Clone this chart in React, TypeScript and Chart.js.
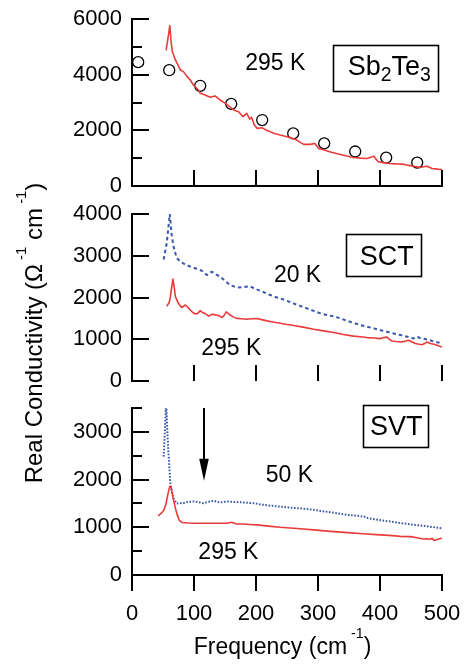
import React, { useEffect, useRef } from "react";
import { Chart, registerables } from "chart.js";

Chart.register(...registerables);

const FONT_FAMILY = '"Liberation Sans", Arial, Helvetica, sans-serif';
const RED = "#ea3b3b";
const BLUE = "#3a58a8";
const W = 464;
const H = 664;
const AXIS_LEFT = 132;

// ---------------- shared axis data ----------------
const freqTicks = [0, 100, 200, 300, 400, 500];
const freqInnerTicks = [100, 200, 300, 400, 500];

// ---------------- Panel 1: Sb2Te3 (295 K) ----------------
const sbFreq = [55, 58, 61, 63, 65, 70, 78, 83, 89, 94, 99, 107, 110, 118, 126, 134, 142, 150, 155, 165, 172, 179, 185, 190, 193, 197, 202, 210, 216, 223, 231, 239, 250, 258, 266, 272, 277, 287, 295, 301, 310, 320, 330, 341, 350, 357, 368, 379, 385, 390, 397, 405, 416, 426, 438, 446, 454, 465, 470, 476, 484, 490, 495, 500];
const sbSigma = [4870, 5300, 5760, 5200, 4830, 4530, 4170, 4110, 3930, 3810, 3630, 3450, 3330, 3270, 3190, 3235, 3090, 2980, 2900, 2720, 2670, 2490, 2610, 2400, 2470, 2200, 2070, 2090, 2010, 1950, 1880, 1830, 1770, 1720, 1650, 1560, 1495, 1495, 1530, 1350, 1290, 1225, 1165, 1105, 1060, 1025, 1000, 990, 1030, 1070, 870, 840, 810, 795, 785, 740, 710, 670, 690, 710, 630, 615, 600, 590];
const sbDcFreq = [10, 60, 110, 160, 210, 260, 310, 360, 410, 460];
const sbDcSigma = [4450, 4160, 3600, 2950, 2370, 1890, 1530, 1240, 1020, 840];
const sbYTicks = [0, 2000, 4000, 6000];
const sbYMinor = [1000, 3000, 5000];
const sbYMax = 6000;

// ---------------- Panel 2: SCT (20 K, 295 K) ----------------
const sct20Freq = [51, 56, 61, 64, 67, 72, 78, 86, 94, 104, 113, 117, 121, 125, 129, 135, 142, 150, 158, 165, 172, 180, 190, 198, 207, 215, 223, 231, 239, 250, 260, 271, 282, 293, 304, 314, 325, 336, 347, 358, 368, 379, 390, 400, 411, 422, 433, 444, 454, 459, 465, 471, 476, 484, 492, 500];
const sct20Sigma = [2910, 3300, 4000, 3500, 3220, 2950, 2860, 2790, 2740, 2690, 2640, 2580, 2540, 2590, 2615, 2560, 2500, 2400, 2300, 2260, 2240, 2250, 2270, 2210, 2160, 2110, 2060, 2010, 1980, 1920, 1860, 1800, 1740, 1680, 1620, 1580, 1550, 1500, 1440, 1390, 1340, 1300, 1260, 1220, 1180, 1140, 1100, 1060, 1020, 1060, 1030, 1010, 995, 960, 930, 900];
const sct295Freq = [56, 60, 62, 64, 66, 68, 70, 75, 80, 86, 91, 94, 98, 102, 106, 110, 114, 118, 124, 129, 133, 137, 141, 145, 148, 152, 155, 159, 164, 169, 177, 185, 193, 202, 209, 218, 227, 237, 248, 261, 276, 293, 309, 325, 341, 357, 368, 379, 390, 400, 406, 411, 415, 419, 426, 433, 440, 446, 451, 457, 463, 468, 472, 476, 481, 487, 493, 500];
const sct295Sigma = [1790, 1880, 2020, 2250, 2440, 2250, 2020, 1855, 1760, 1820, 1750, 1700, 1640, 1605, 1620, 1685, 1640, 1615, 1555, 1600, 1590, 1575, 1560, 1520, 1560, 1655, 1620, 1575, 1530, 1500, 1490, 1480, 1490, 1495, 1470, 1440, 1415, 1390, 1360, 1330, 1290, 1240, 1200, 1160, 1115, 1075, 1060, 1040, 1030, 1015, 1040, 1050, 1000, 960, 945, 935, 950, 975, 940, 900, 880, 870, 900, 935, 900, 880, 850, 815];
const sctYTicks = [0, 1000, 2000, 3000, 4000];
const sctYMax = 4000;

// ---------------- Panel 3: SVT (50 K, 295 K) ----------------
const svt50Freq = [51, 53, 55, 57, 59, 62, 67, 72, 78, 83, 90, 99, 106, 115, 122, 132, 142, 150, 156, 165, 175, 185, 196, 207, 218, 228, 239, 252, 266, 280, 293, 306, 320, 333, 347, 360, 374, 380, 390, 403, 417, 430, 444, 457, 470, 485, 500];
const svt50Sigma = [2480, 3000, 3650, 3000, 2520, 1890, 1600, 1500, 1505, 1510, 1530, 1540, 1530, 1505, 1530, 1555, 1520, 1535, 1540, 1530, 1525, 1515, 1505, 1480, 1460, 1445, 1435, 1415, 1400, 1385, 1365, 1340, 1315, 1290, 1260, 1245, 1225, 1195, 1170, 1145, 1120, 1095, 1070, 1050, 1030, 1005, 980];
const svt295Freq = [42, 47, 51, 55, 58, 61, 63, 65, 67, 70, 73, 76, 81, 90, 99, 115, 132, 145, 153, 161, 165, 169, 180, 190, 202, 220, 239, 266, 293, 320, 347, 373, 400, 420, 433, 449, 460, 470, 476, 481, 484, 487, 492, 500];
const svt295Sigma = [1240, 1290, 1350, 1500, 1700, 1860, 1840, 1700, 1575, 1400, 1260, 1150, 1100, 1090, 1085, 1085, 1085, 1085, 1085, 1105, 1085, 1070, 1070, 1060, 1050, 1025, 1000, 975, 945, 915, 888, 865, 840, 825, 810, 805, 780, 756, 760, 749, 770, 722, 745, 770];
const svtYTicks = [0, 1000, 2000, 3000];
const svtYMinor = [500, 1500, 2500, 3500];
const svtYMax = 3500;

// ---------------- text ----------------
type Seg = { t: string; sup?: boolean; sub?: boolean };
const sbName: Seg[] = [{ t: "Sb" }, { t: "2", sub: true }, { t: "Te" }, { t: "3", sub: true }];
const sctName: Seg[] = [{ t: "SCT" }];
const svtName: Seg[] = [{ t: "SVT" }];
const lbl295: Seg[] = [{ t: "295 K" }];
const lbl20: Seg[] = [{ t: "20 K" }];
const lbl50: Seg[] = [{ t: "50 K" }];
const xTitle: Seg[] = [{ t: "Frequency (cm" }, { t: " -1", sup: true }, { t: ")" }];
const yTitle: Seg[] = [{ t: "Real Conductivity (\u03A9" }, { t: " -1", sup: true }, { t: " cm" }, { t: " -1", sup: true }, { t: ")" }];

const zip = (xs: number[], ys: number[]) => xs.map((x, i) => ({ x, y: ys[i] }));

function drawRich(ctx: CanvasRenderingContext2D, segs: Seg[], x: number, baseline: number, size: number, align: "center" | "left", smallScale = 0.62) {
  const small = size * smallScale;
  const fontOf = (s: number) => `${s}px ${FONT_FAMILY}`;
  const widths = segs.map((s) => {
    ctx.font = fontOf(s.sup || s.sub ? small : size);
    return ctx.measureText(s.t).width;
  });
  const total = widths.reduce((a, b) => a + b, 0);
  let cx = align === "center" ? x - total / 2 : x;
  ctx.textAlign = "left";
  ctx.textBaseline = "alphabetic";
  segs.forEach((s, i) => {
    ctx.font = fontOf(s.sup || s.sub ? small : size);
    const dy = s.sup ? -size * 0.68 : s.sub ? size * 0.25 : 0;
    ctx.fillText(s.t, cx, baseline + dy);
    cx += widths[i];
  });
}

interface Decor {
  yMajor: number[];
  yMinor: number[];
  xInner: number[];
  labels: { x: number; y: number; segs: Seg[] }[];
  box?: { x: number; y: number; w: number; h: number; segs: Seg[]; dx: number; dy: number; sub?: number };
  arrow?: { x: number; from: number; to: number };
  extra?: (ctx: CanvasRenderingContext2D) => void;
}

function decorPlugin(decor: Decor) {
  return {
    id: "panelDecor",
    afterDraw(chart: any) {
      const ctx: CanvasRenderingContext2D = chart.ctx;
      const { left, bottom } = chart.chartArea;
      const xs = chart.scales.x;
      const ys = chart.scales.y;
      ctx.save();
      ctx.strokeStyle = "#000";
      ctx.fillStyle = "#000";
      ctx.lineWidth = 2;
      ctx.lineCap = "butt";
      const hTick = (v: number, len: number) => {
        const py = Math.round(ys.getPixelForValue(v));
        ctx.beginPath();
        ctx.moveTo(left, py);
        ctx.lineTo(left + len, py);
        ctx.stroke();
      };
      decor.yMajor.forEach((v) => hTick(v, 17));
      decor.yMinor.forEach((v) => hTick(v, 10));
      decor.xInner.forEach((v) => {
        const px = Math.round(xs.getPixelForValue(v));
        ctx.beginPath();
        ctx.moveTo(px, bottom);
        ctx.lineTo(px, bottom - 16);
        ctx.stroke();
      });
      const ann = 23;
      decor.labels.forEach((l) => {
        const px = xs.getPixelForValue(l.x);
        const py = ys.getPixelForValue(l.y);
        drawRich(ctx, l.segs, px, py + ann * 0.358, ann, "center");
      });
      if (decor.box) {
        const b = decor.box;
        const px = xs.getPixelForValue(b.x);
        const py = ys.getPixelForValue(b.y);
        ctx.lineWidth = 1.6;
        ctx.strokeRect(Math.round(px - b.w / 2) + 0.5, Math.round(py - b.h / 2) + 0.5, b.w, b.h);
        const bs = 27;
        drawRich(ctx, b.segs, px + b.dx, py + b.dy + bs * 0.358, bs, "center", b.sub ?? 0.72);
      }
      if (decor.arrow) {
        const a = decor.arrow;
        const px = Math.round(xs.getPixelForValue(a.x));
        const y0 = ys.getPixelForValue(a.from);
        const y1 = ys.getPixelForValue(a.to);
        const head = 22;
        ctx.lineWidth = 2;
        ctx.beginPath();
        ctx.moveTo(px, y0);
        ctx.lineTo(px, y1 - head + 2);
        ctx.stroke();
        ctx.beginPath();
        ctx.moveTo(px - 4.8, y1 - head);
        ctx.lineTo(px + 4.8, y1 - head);
        ctx.lineTo(px, y1);
        ctx.closePath();
        ctx.fill();
      }
      if (decor.extra) decor.extra(ctx);
      ctx.restore();
    },
  };
}

type XMode = "line" | "none" | "full";

function makeOptions(p: { padTop: number; padBottom: number; yMax: number; yLabels: number[]; xMode: XMode; xHeight: number }) {
  const tickFont = { family: FONT_FAMILY, size: 22 };
  return {
    responsive: false,
    maintainAspectRatio: false,
    animation: false as const,
    events: [] as any[],
    layout: { padding: { top: p.padTop, bottom: p.padBottom, left: 0, right: W - 442 } },
    plugins: { legend: { display: false }, tooltip: { enabled: false }, title: { display: false } },
    scales: {
      x: {
        type: "linear" as const,
        min: 0,
        max: 500,
        display: p.xMode !== "none",
        afterBuildTicks: (s: any) => {
          s.ticks = freqTicks.map((v) => ({ value: v }));
        },
        afterFit: (s: any) => {
          s.height = p.xHeight;
          s.paddingLeft = 0;
          s.paddingRight = 0;
        },
        grid: { display: p.xMode === "full", drawOnChartArea: false, drawTicks: p.xMode === "full", tickLength: 16, color: "#000", lineWidth: 2 },
        border: { display: true, color: "#000", width: 2 },
        ticks: { display: p.xMode === "full", color: "#000", font: tickFont, padding: 10, maxRotation: 0, autoSkip: false, callback: (v: any) => String(v) },
      },
      y: {
        type: "linear" as const,
        min: 0,
        max: p.yMax,
        afterBuildTicks: (s: any) => {
          s.ticks = p.yLabels.map((v) => ({ value: v }));
        },
        afterFit: (s: any) => {
          s.width = AXIS_LEFT;
          s.paddingTop = 0;
          s.paddingBottom = 0;
        },
        grid: { display: false, drawTicks: false },
        border: { display: true, color: "#000", width: 2 },
        ticks: { color: "#000", font: tickFont, padding: 10, autoSkip: false, callback: (v: any) => String(v) },
      },
    },
  };
}

function topConfig(): any {
  return {
    type: "scatter",
    data: {
      datasets: [
        { data: zip(sbFreq, sbSigma), showLine: true, borderColor: RED, borderWidth: 1.6, pointRadius: 0, tension: 0, borderJoinStyle: "round" },
        { data: zip(sbDcFreq, sbDcSigma), showLine: false, pointRadius: 5.5, pointBorderColor: "#000", pointBackgroundColor: "rgba(0,0,0,0)", pointBorderWidth: 1.3 },
      ],
    },
    options: makeOptions({ padTop: 19, padBottom: H - 186, yMax: sbYMax, yLabels: sbYTicks, xMode: "line", xHeight: 0 }),
    plugins: [
      decorPlugin({
        yMajor: sbYTicks,
        yMinor: sbYMinor,
        xInner: freqInnerTicks,
        labels: [{ x: 231, y: 4466, segs: lbl295 }],
        box: { x: 409.4, y: 4257, w: 105, h: 46, segs: sbName, dx: 3.5, dy: -2.5 },
      }),
    ],
  };
}

function midConfig(): any {
  return {
    type: "scatter",
    data: {
      datasets: [
        { data: zip(sct295Freq, sct295Sigma), showLine: true, borderColor: RED, borderWidth: 1.6, pointRadius: 0, tension: 0, borderJoinStyle: "round" },
        { data: zip(sct20Freq, sct20Sigma), showLine: true, borderColor: BLUE, borderWidth: 2, borderDash: [3.5, 3], pointRadius: 0, tension: 0 },
      ],
    },
    options: makeOptions({ padTop: 214, padBottom: H - 381, yMax: sctYMax, yLabels: sctYTicks, xMode: "none", xHeight: 0 }),
    plugins: [
      decorPlugin({
        yMajor: sctYTicks,
        yMinor: [],
        xInner: freqInnerTicks,
        labels: [
          { x: 267, y: 2580, segs: lbl20 },
          { x: 160, y: 826, segs: lbl295 },
        ],
        box: { x: 405.3, y: 3018, w: 75, h: 42, segs: sctName, dx: 3.5, dy: 0 },
      }),
    ],
  };
}

function botConfig(): any {
  return {
    type: "scatter",
    data: {
      datasets: [
        { data: zip(svt295Freq, svt295Sigma), showLine: true, borderColor: RED, borderWidth: 1.6, pointRadius: 0, tension: 0, borderJoinStyle: "round" },
        { data: zip(svt50Freq, svt50Sigma), showLine: true, borderColor: BLUE, borderWidth: 2, borderDash: [1.6, 1.6], pointRadius: 0, tension: 0, clip: 0 },
      ],
    },
    options: makeOptions({ padTop: 408, padBottom: 0, yMax: svtYMax, yLabels: svtYTicks, xMode: "full", xHeight: H - 575 }),
    plugins: [
      decorPlugin({
        yMajor: svtYTicks,
        yMinor: svtYMinor,
        xInner: [],
        labels: [
          { x: 254, y: 2117, segs: lbl50 },
          { x: 155.5, y: 509, segs: lbl295 },
        ],
        box: { x: 425.5, y: 3127, w: 65, h: 42, segs: svtName, dx: 0.5, dy: 0 },
        arrow: { x: 116, from: 3500, to: 1976 },
        extra: (ctx) => {
          drawRich(ctx, xTitle, 282.5, 654, 23, "center");
          ctx.save();
          ctx.translate(42, 333);
          ctx.rotate(-Math.PI / 2);
          drawRich(ctx, yTitle, 0, 0, 24, "center");
          ctx.restore();
        },
      }),
    ],
  };
}

export default function App() {
  const r1 = useRef<HTMLCanvasElement>(null);
  const r2 = useRef<HTMLCanvasElement>(null);
  const r3 = useRef<HTMLCanvasElement>(null);
  useEffect(() => {
    const charts = [new Chart(r1.current!, topConfig()), new Chart(r2.current!, midConfig()), new Chart(r3.current!, botConfig())];
    return () => charts.forEach((c) => c.destroy());
  }, []);
  const cs: React.CSSProperties = { position: "absolute", left: 0, top: 0, width: W, height: H };
  return (
    <div style={{ position: "absolute", left: 0, top: 0, width: W, height: H, background: "#fff" }}>
      <canvas ref={r1} width={W} height={H} style={cs} />
      <canvas ref={r2} width={W} height={H} style={cs} />
      <canvas ref={r3} width={W} height={H} style={cs} />
    </div>
  );
}
